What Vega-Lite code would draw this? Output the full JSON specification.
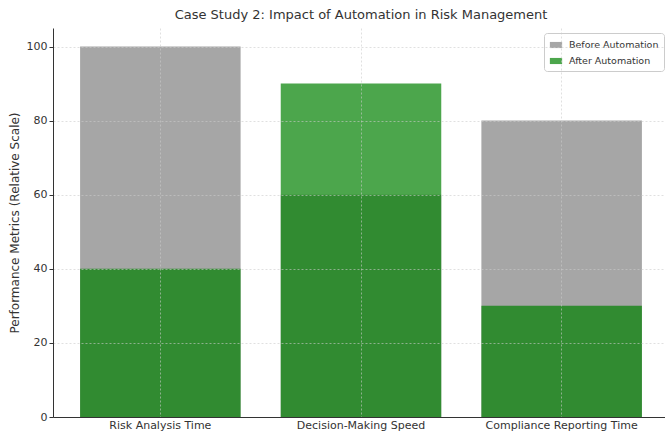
{
  "$schema": "https://vega.github.io/schema/vega-lite/v6.json",
  "width": 616,
  "height": 389,
  "autosize": {"type": "none"},
  "padding": {"left": 53, "top": 28, "right": 0, "bottom": 18},
  "background": "white",
  "config": {
    "font": "DejaVu Sans",
    "view": {"stroke": null}
  },
  "title": {
    "text": "Case Study 2: Impact of Automation in Risk Management",
    "fontSize": 13,
    "fontWeight": "normal",
    "color": "#333333",
    "offset": 6,
    "anchor": "middle"
  },
  "data": {
    "values": [
      {"metric": "Risk Analysis Time", "series": "Before Automation", "value": 100},
      {"metric": "Decision-Making Speed", "series": "Before Automation", "value": 60},
      {"metric": "Compliance Reporting Time", "series": "Before Automation", "value": 80},
      {"metric": "Risk Analysis Time", "series": "After Automation", "value": 40},
      {"metric": "Decision-Making Speed", "series": "After Automation", "value": 90},
      {"metric": "Compliance Reporting Time", "series": "After Automation", "value": 30}
    ]
  },
  "mark": {"type": "bar", "opacity": 0.7},
  "encoding": {
    "x": {
      "field": "metric",
      "type": "nominal",
      "sort": null,
      "scale": {"paddingInner": 0.2, "paddingOuter": 0.135},
      "axis": {
        "title": null,
        "labelAngle": 0,
        "labelFontSize": 11,
        "labelColor": "#333333",
        "labelPadding": 2,
        "labelBaseline": "top",
        "ticks": false,
        "bandPosition": 0.5,
        "domainColor": "#333333",
        "domainWidth": 1,
        "grid": true,
        "gridColor": "#cccccc",
        "gridDash": [2, 2],
        "gridOpacity": 0.6,
        "zindex": 1
      }
    },
    "y": {
      "field": "value",
      "type": "quantitative",
      "stack": null,
      "scale": {"domain": [0, 105], "nice": false},
      "axis": {
        "title": "Performance Metrics (Relative Scale)",
        "titleFontSize": 12,
        "titleFontWeight": "normal",
        "titleColor": "#333333",
        "titlePadding": 5,
        "values": [0, 20, 40, 60, 80, 100],
        "labelFontSize": 11,
        "labelColor": "#333333",
        "tickColor": "#333333",
        "tickSize": 4,
        "domainColor": "#333333",
        "grid": true,
        "gridColor": "#cccccc",
        "gridDash": [2, 2],
        "gridOpacity": 0.6,
        "zindex": 1
      }
    },
    "color": {
      "field": "series",
      "type": "nominal",
      "scale": {"domain": ["Before Automation", "After Automation"], "range": ["#808080", "#008000"]},
      "legend": {
        "title": null,
        "orient": "top-right",
        "offset": 5,
        "labelFontSize": 9.5,
        "labelColor": "#333333",
        "labelOffset": 6,
        "symbolType": "M-1,-0.5H1V0.5H-1Z",
        "symbolSize": 150,
        "symbolOpacity": 0.7,
        "rowPadding": 4,
        "padding": 5,
        "fillColor": "white",
        "strokeColor": "#cccccc",
        "cornerRadius": 3
      }
    },
    "order": {"field": "series", "sort": "descending"}
  }
}
